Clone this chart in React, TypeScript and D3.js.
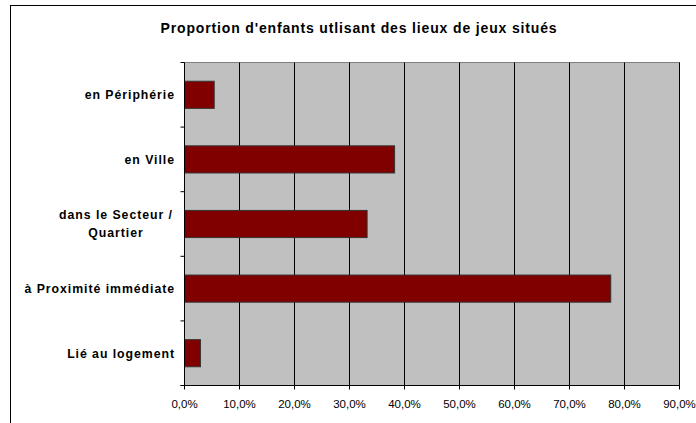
import * as d3 from "d3";

const categories = [
  "en Périphérie",
  "en Ville",
  "dans le Secteur / Quartier",
  "à Proximité immédiate",
  "Lié au logement",
];
const values = [5.4, 38.2, 33.2, 77.5, 2.9];
const ticks = [0, 10, 20, 30, 40, 50, 60, 70, 80, 90];
const labelLines: Record<string, string[]> = {
  "dans le Secteur / Quartier": ["dans le Secteur /", "Quartier"],
};

const width = 696;
const height = 423;
const marginLeft = 184.5;
const marginRight = 16.5;
const marginTop = 62.5;
const marginBottom = 37.5;

const App = () => {
  const x = d3.scaleLinear([0, 90], [marginLeft, width - marginRight]);
  const y = d3
    .scaleBand<string>()
    .domain(categories)
    .range([marginTop, height - marginBottom])
    .paddingInner(0.58)
    .paddingOuter(0.29);
  const step = y.step();
  const bounds = d3.range(categories.length + 1).map((i) => marginTop + i * step);

  return (
    <svg
      width={width}
      height={height}
      style={{ position: "absolute", left: 0, top: 0, fontFamily: "'Liberation Sans', Arial, sans-serif" }}
    >
      <rect x={0} y={0} width={width} height={height} fill="#fff" />
      <rect x={10.5} y={5.5} width={width + 20} height={height + 20} fill="none" stroke="#000" />
      <text x={359} y={33} textAnchor="middle" fontSize={14} fontWeight="bold" letterSpacing={0.85}>
        Proportion d'enfants utlisant des lieux de jeux situés
      </text>

      <rect
        x={marginLeft}
        y={marginTop}
        width={x(90) - marginLeft}
        height={height - marginBottom - marginTop}
        fill="#c0c0c0"
        stroke="#808080"
      />
      {ticks.slice(1).map((t) => (
        <line key={t} x1={x(t)} x2={x(t)} y1={marginTop} y2={height - marginBottom} stroke="#000" />
      ))}

      {categories.map((c, i) => (
        <rect
          key={c}
          x={x(0)}
          y={y(c)}
          width={x(values[i]) - x(0)}
          height={y.bandwidth()}
          fill="#800000"
          stroke="#333"
        />
      ))}

      <line x1={marginLeft} x2={marginLeft} y1={marginTop} y2={height - marginBottom} stroke="#000" />
      {bounds.map((b, i) => (
        <line key={i} x1={marginLeft - 4} x2={marginLeft} y1={b} y2={b} stroke="#000" />
      ))}
      <line x1={marginLeft - 4} x2={x(90)} y1={height - marginBottom} y2={height - marginBottom} stroke="#000" />
      {ticks.map((t) => (
        <g key={t}>
          <line x1={x(t)} x2={x(t)} y1={height - marginBottom} y2={height - marginBottom + 4} stroke="#000" />
          <text x={x(t)} y={408.3} textAnchor="middle" fontSize={11.5}>
            {t.toFixed(1).replace(".", ",")}%
          </text>
        </g>
      ))}

      {categories.map((c) => {
        const lines = labelLines[c] || [c];
        const cy = (y(c) as number) + y.bandwidth() / 2;
        const anchorX = lines.length > 1 ? 116 : 175;
        return (
          <text
            key={c}
            textAnchor={lines.length > 1 ? "middle" : "end"}
            fontSize={12.3}
            fontWeight="bold"
            letterSpacing={0.95}
          >
            {lines.map((l, j) => (
              <tspan key={j} x={anchorX} y={cy + 4.3 + (j - (lines.length - 1) / 2) * 18}>
                {l}
              </tspan>
            ))}
          </text>
        );
      })}
    </svg>
  );
};

export default App;
